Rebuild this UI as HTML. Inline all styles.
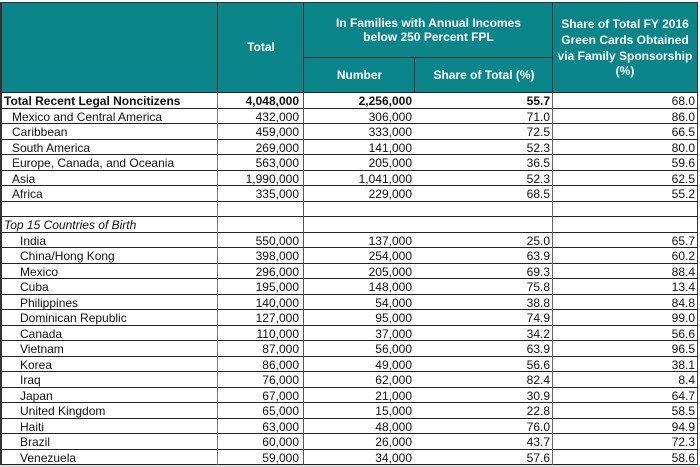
<!DOCTYPE html>
<html>
<head>
<meta charset="utf-8">
<style>
  html,body{margin:0;padding:0;}
  body{width:700px;height:467px;position:relative;overflow:hidden;background:#fff;
       font-family:"Liberation Sans",Arial,sans-serif;font-size:12px;color:#111;}
  .hdr{position:absolute;left:1px;top:2px;width:697px;height:91px;background:#0a868a;}
  .ht{position:absolute;color:#fff;font-weight:bold;text-align:center;display:flex;align-items:center;justify-content:center;}
  .line{position:absolute;}
  .row{position:absolute;left:2px;width:695px;height:15.5px;box-sizing:border-box;border-bottom:1px solid #222;}
  .c{position:absolute;top:0;height:14.5px;line-height:16.5px;white-space:nowrap;}
  .c0{left:0;width:216px;}
  .c1{left:216px;width:81px;text-align:right;}
  .c2{left:302px;width:108px;text-align:right;}
  .c3{left:413px;width:135px;text-align:right;}
  .c4{left:551px;width:142px;text-align:right;}
  .b{font-weight:bold;}
  .i{font-style:italic;}
</style>
</head>
<body>
<div class="hdr"></div>
<div class="ht" style="left:218px;top:2px;width:86px;height:91px;line-height:15px;">Total</div>
<div class="ht" style="left:304px;top:2px;width:249px;height:55px;line-height:14px;">In Families with Annual Incomes<br>below 250 Percent FPL</div>
<div class="ht" style="left:304px;top:57px;width:111px;height:36px;line-height:15px;">Number</div>
<div class="ht" style="left:415px;top:57px;width:138px;height:36px;line-height:15px;">Share of Total (%)</div>
<div class="ht" style="left:553px;top:3px;width:144px;height:91px;line-height:15.7px;">Share of Total FY 2016<br>Green Cards Obtained<br>via Family Sponsorship<br>(%)</div>

<!-- header lines -->
<div class="line" style="left:1px;top:2px;width:697px;height:1px;background:#333;"></div>
<div class="line" style="left:0px;top:2px;width:2px;height:463px;background:#333;"></div>
<div class="line" style="left:697px;top:2px;width:1px;height:463px;background:#333;"></div>
<div class="line" style="left:217px;top:2px;width:1px;height:91px;background:#333;"></div>
<div class="line" style="left:303px;top:2px;width:1px;height:91px;background:#333;"></div>
<div class="line" style="left:552px;top:2px;width:1px;height:91px;background:#333;"></div>
<div class="line" style="left:304px;top:57px;width:249px;height:1px;background:#333;"></div>
<div class="line" style="left:414px;top:57px;width:1px;height:36px;background:#333;"></div>
<div class="line" style="left:1px;top:92px;width:697px;height:1px;background:#222;"></div>

<!-- bottom gray band -->
<div class="line" style="left:0;top:465px;width:700px;height:2px;background:#dcdcdc;"></div>

<!-- rows -->
<div class="row" style="top:93px;"><div class="c c0 b" style="padding-left:2px;">Total Recent Legal Noncitizens</div><div class="c c1 b">4,048,000</div><div class="c c2 b">2,256,000</div><div class="c c3 b">55.7</div><div class="c c4">68.0</div></div>
<div class="row" style="top:108.5px;"><div class="c c0" style="padding-left:10px;">Mexico and Central America</div><div class="c c1">432,000</div><div class="c c2">306,000</div><div class="c c3">71.0</div><div class="c c4">86.0</div></div>
<div class="row" style="top:124px;"><div class="c c0" style="padding-left:10px;">Caribbean</div><div class="c c1">459,000</div><div class="c c2">333,000</div><div class="c c3">72.5</div><div class="c c4">66.5</div></div>
<div class="row" style="top:139.5px;"><div class="c c0" style="padding-left:10px;">South America</div><div class="c c1">269,000</div><div class="c c2">141,000</div><div class="c c3">52.3</div><div class="c c4">80.0</div></div>
<div class="row" style="top:155px;"><div class="c c0" style="padding-left:10px;">Europe, Canada, and Oceania</div><div class="c c1">563,000</div><div class="c c2">205,000</div><div class="c c3">36.5</div><div class="c c4">59.6</div></div>
<div class="row" style="top:170.5px;"><div class="c c0" style="padding-left:10px;">Asia</div><div class="c c1">1,990,000</div><div class="c c2">1,041,000</div><div class="c c3">52.3</div><div class="c c4">62.5</div></div>
<div class="row" style="top:186px;"><div class="c c0" style="padding-left:10px;">Africa</div><div class="c c1">335,000</div><div class="c c2">229,000</div><div class="c c3">68.5</div><div class="c c4">55.2</div></div>
<div class="row" style="top:201.5px;"></div>
<div class="row" style="top:217px;"><div class="c c0 i" style="padding-left:2px;">Top 15 Countries of Birth</div></div>
<div class="row" style="top:232.5px;"><div class="c c0" style="padding-left:18px;">India</div><div class="c c1">550,000</div><div class="c c2">137,000</div><div class="c c3">25.0</div><div class="c c4">65.7</div></div>
<div class="row" style="top:248px;"><div class="c c0" style="padding-left:18px;">China/Hong Kong</div><div class="c c1">398,000</div><div class="c c2">254,000</div><div class="c c3">63.9</div><div class="c c4">60.2</div></div>
<div class="row" style="top:263.5px;"><div class="c c0" style="padding-left:18px;">Mexico</div><div class="c c1">296,000</div><div class="c c2">205,000</div><div class="c c3">69.3</div><div class="c c4">88.4</div></div>
<div class="row" style="top:279px;"><div class="c c0" style="padding-left:18px;">Cuba</div><div class="c c1">195,000</div><div class="c c2">148,000</div><div class="c c3">75.8</div><div class="c c4">13.4</div></div>
<div class="row" style="top:294.5px;"><div class="c c0" style="padding-left:18px;">Philippines</div><div class="c c1">140,000</div><div class="c c2">54,000</div><div class="c c3">38.8</div><div class="c c4">84.8</div></div>
<div class="row" style="top:310px;"><div class="c c0" style="padding-left:18px;">Dominican Republic</div><div class="c c1">127,000</div><div class="c c2">95,000</div><div class="c c3">74.9</div><div class="c c4">99.0</div></div>
<div class="row" style="top:325.5px;"><div class="c c0" style="padding-left:18px;">Canada</div><div class="c c1">110,000</div><div class="c c2">37,000</div><div class="c c3">34.2</div><div class="c c4">56.6</div></div>
<div class="row" style="top:341px;"><div class="c c0" style="padding-left:18px;">Vietnam</div><div class="c c1">87,000</div><div class="c c2">56,000</div><div class="c c3">63.9</div><div class="c c4">96.5</div></div>
<div class="row" style="top:356.5px;"><div class="c c0" style="padding-left:18px;">Korea</div><div class="c c1">86,000</div><div class="c c2">49,000</div><div class="c c3">56.6</div><div class="c c4">38.1</div></div>
<div class="row" style="top:372px;"><div class="c c0" style="padding-left:18px;">Iraq</div><div class="c c1">76,000</div><div class="c c2">62,000</div><div class="c c3">82.4</div><div class="c c4">8.4</div></div>
<div class="row" style="top:387.5px;"><div class="c c0" style="padding-left:18px;">Japan</div><div class="c c1">67,000</div><div class="c c2">21,000</div><div class="c c3">30.9</div><div class="c c4">64.7</div></div>
<div class="row" style="top:403px;"><div class="c c0" style="padding-left:18px;">United Kingdom</div><div class="c c1">65,000</div><div class="c c2">15,000</div><div class="c c3">22.8</div><div class="c c4">58.5</div></div>
<div class="row" style="top:418.5px;"><div class="c c0" style="padding-left:18px;">Haiti</div><div class="c c1">63,000</div><div class="c c2">48,000</div><div class="c c3">76.0</div><div class="c c4">94.9</div></div>
<div class="row" style="top:434px;"><div class="c c0" style="padding-left:18px;">Brazil</div><div class="c c1">60,000</div><div class="c c2">26,000</div><div class="c c3">43.7</div><div class="c c4">72.3</div></div>
<div class="row" style="top:449.5px;"><div class="c c0" style="padding-left:18px;">Venezuela</div><div class="c c1">59,000</div><div class="c c2">34,000</div><div class="c c3">57.6</div><div class="c c4">58.6</div></div>

<!-- body vertical lines -->
<div class="line" style="left:217px;top:93px;width:1px;height:372px;background:#777;"></div>
<div class="line" style="left:303px;top:93px;width:1px;height:372px;background:#555;"></div>
<div class="line" style="left:552px;top:93px;width:1px;height:372px;background:#666;"></div>
</body>
</html>
